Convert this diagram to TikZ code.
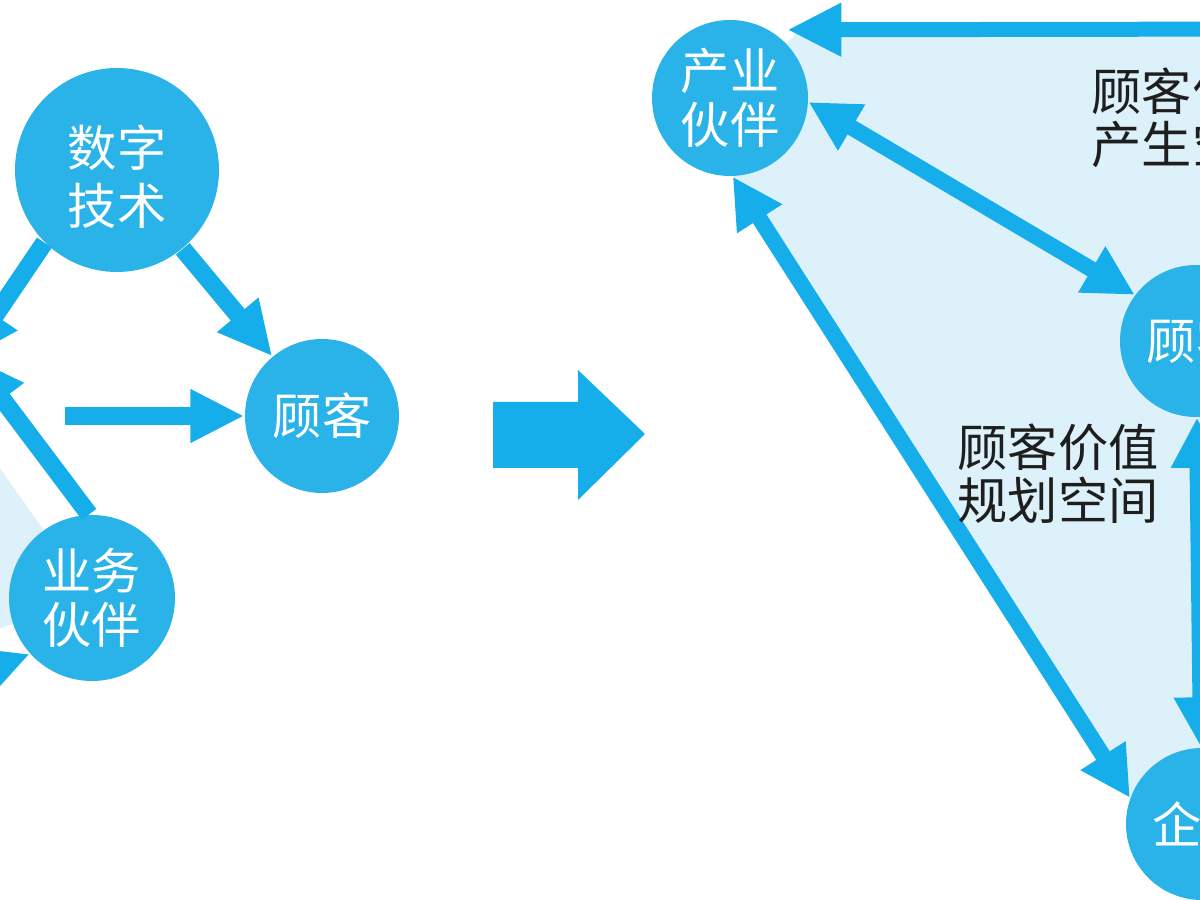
\documentclass[tikz,border=0pt]{standalone}
\usepackage{fontspec}
\newfontfamily\cjk{Noto Sans CJK SC}
\usetikzlibrary{arrows.meta}
\definecolor{bubble}{RGB}{42,179,232}
\definecolor{arrowblue}{RGB}{22,174,234}
\definecolor{pale}{RGB}{221,241,250}
\definecolor{ink}{RGB}{30,30,30}

\begin{document}
\begin{tikzpicture}[
  ball/.style={circle, fill=bubble, text=white, inner sep=0pt, align=center, font=\cjk\fontsize{14}{15.5}\selectfont},
  fat/.style={arrowblue, line width=0.18cm, -{Triangle[length=0.54cm,width=0.5cm]}},
  duo/.style={arrowblue, line width=0.16cm, {Triangle[length=0.5cm,width=0.5cm]}-{Triangle[length=0.5cm,width=0.5cm]}},
  words/.style={text=ink, align=left, anchor=west, inner sep=0pt, font=\cjk\fontsize{14.3}{15}\selectfont}
]
\useasboundingbox (0,0) rectangle (12,9);
\clip (0,0) rectangle (12,9);

% pale areas
\fill[pale] (-0.5,5.02) -- (0.92,3.02) -- (-0.5,2.55) -- cycle;
\fill[pale] (7.30,8.02) -- (8.0,8.70) -- (13,8.70) -- (13,0.76) -- (12.02,0.76) -- (11.31,1.02) -- (7.33,7.24) -- cycle;

% left: before
\node[ball, minimum size=2.04cm, font=\cjk\fontsize{14}{16.5}\selectfont] (shuzi) at (1.17,7.30) {\rule{0pt}{0.55cm}数字\\技术};
\node[ball, minimum size=1.54cm] (gukeL) at (3.22,4.84) {顾客};
\node[ball, minimum size=1.66cm] (yewu) at (0.92,3.02) {业务\\伙伴};
\coordinate (leftin) at (-0.35,5.40);
\coordinate (leftup) at (-0.30,5.44);
\coordinate (lw) at (0.65,4.84);
\coordinate (lbot) at (-1.14,1.92);

\draw[fat] (shuzi) -- (gukeL);
\draw[fat] (shuzi.225) -- (leftin);
\draw[fat] (lw) -- (gukeL);
\draw[fat] (yewu.92) -- (leftup);
\draw[fat] (lbot) -- (yewu.222);

% big arrow
\fill[arrowblue] (4.93,4.98) -- (5.78,4.98) -- (5.78,5.30) -- (6.45,4.66) -- (5.78,4.0) -- (5.78,4.32) -- (4.93,4.32) -- cycle;

% right: after
\node[ball, minimum size=1.56cm] (chanye) at (7.30,8.02) {产业\\伙伴};
\node[ball, minimum size=1.52cm] (gukeR) at (11.96,5.59) {顾客};
\node[ball, minimum size=1.52cm] (qiyeR) at (12.02,0.76) {企业};
\coordinate (rtop) at (13,8.71);

\draw[fat, line width=0.15cm, shorten >=0.18cm] (rtop) -- (chanye.60);
\draw[duo] (chanye.-3) -- (gukeR.143);
\draw[duo] (chanye.-88) -- (qiyeR.160);
\draw[duo] (gukeR) -- (qiyeR);

\node[words] (chansheng) at (10.91,7.82) {顾客价值\\产生空间};
\node[words] (guihua) at (9.57,4.26) {顾客价值\\规划空间};
\end{tikzpicture}
\end{document}
